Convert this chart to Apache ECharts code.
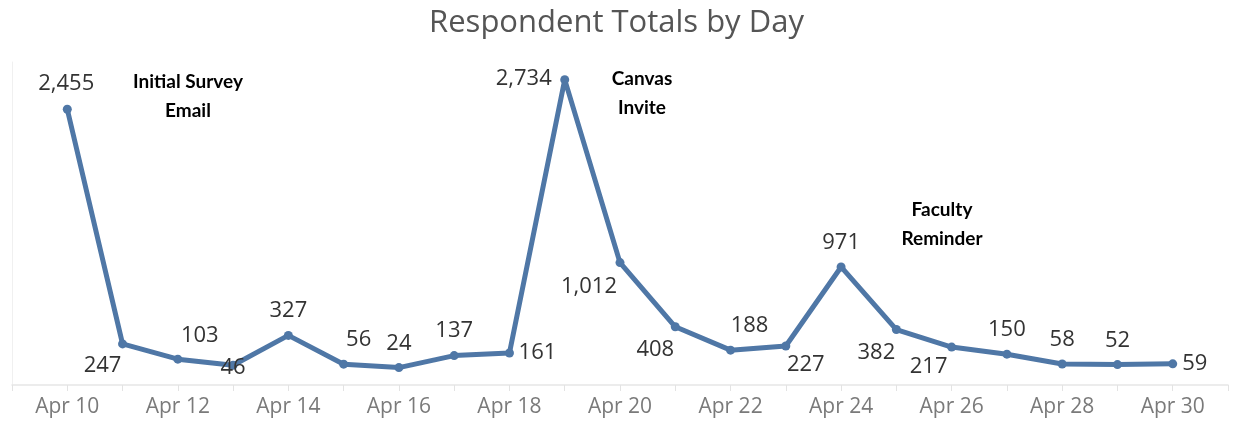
<!DOCTYPE html>
<html>
<head>
<meta charset="utf-8">
<script src="https://cdn.jsdelivr.net/npm/echarts@6/dist/echarts.min.js"></script>
<style>
  html, body { margin: 0; padding: 0; background: #fff; }
  #chart { width: 1233px; height: 431px; }
</style>
</head>
<body>
<div id="chart"></div>
<script>
// days shown on the axis, Apr 10 .. Apr 30
var days = ['Apr 10','Apr 11','Apr 12','Apr 13','Apr 14','Apr 15','Apr 16','Apr 17','Apr 18','Apr 19','Apr 20',
            'Apr 21','Apr 22','Apr 23','Apr 24','Apr 25','Apr 26','Apr 27','Apr 28','Apr 29','Apr 30'];
// respondents per day
var totals = [2455, 247, 103, 46, 327, 56, 24, 137, 161, 2734, 1012, 408, 188, 227, 971, 382, 217, 150, 58, 52, 59];

// where each number label sits around its point (style only)
var labelOffsets = [[-1,-26],[-20,22],[22,-23],[0,2],[0,-25],[15,-24],[0,-24],[0,-25],[28,0],[-41,-1],[-31,24],
                    [-20,23],[19,-24],[20,19],[0,-24],[-20,23],[-23,20],[0,-24],[0,-24],[0,-24],[22,0]];

var lineColor = '#4f77a6';

var chart = echarts.init(document.getElementById('chart'));

var seriesData = totals.map(function (v, i) {
  return {
    value: [i, v],
    label: { offset: labelOffsets[i] }
  };
});

// bold call-out text, centred on (x, y)
function note(text, x, y) {
  return {
    type: 'text',
    x: x, y: y,
    style: {
      text: text,
      font: 'bold 19px Lato',
      fill: '#000',
      align: 'center',
      verticalAlign: 'middle',
      lineHeight: 29
    }
  };
}

var option = {
  animation: false,
  title: {
    text: 'Respondent Totals by Day',
    left: 'center',
    top: 3,
    textStyle: { fontFamily: 'Open Sans', fontSize: 31, fontWeight: 'normal', color: '#555' }
  },
  grid: { left: 12, right: 5, top: 62, bottom: 46 },
  xAxis: {
    type: 'value',
    min: -1, max: 21, interval: 1,
    splitLine: { show: false },
    axisLine: { onZero: false, lineStyle: { color: '#e6e6e6', width: 1.5 } },
    axisTick: { show: true, length: 6, lineStyle: { color: '#e3e3e3' } },
    axisLabel: {
      color: '#7a7a7a', fontFamily: 'Open Sans', fontSize: 21, margin: 12,
      formatter: function (v) {
        return (v >= 0 && v < days.length && v % 2 === 0) ? days[v] : '';
      }
    }
  },
  yAxis: {
    type: 'value',
    min: -140, max: 2900,
    splitLine: { show: false },
    axisLabel: { show: false },
    axisTick: { show: false },
    axisLine: { show: true, onZero: false, lineStyle: { color: '#f0f0f0' } }
  },
  series: [{
    type: 'line',
    data: seriesData,
    symbol: 'circle',
    symbolSize: 9,
    lineStyle: { color: lineColor, width: 5 },
    itemStyle: { color: lineColor },
    label: {
      show: true,
      position: 'inside',
      color: '#333',
      fontFamily: 'Open Sans',
      fontSize: 22,
      formatter: function (p) { return p.value[1].toLocaleString('en-US'); }
    }
  }],
  graphic: [
    note('Initial Survey\nEmail', 188, 96),
    note('Canvas\nInvite', 642, 93),
    note('Faculty\nReminder', 942, 224)
  ]
};

chart.setOption(option);
</script>
</body>
</html>
